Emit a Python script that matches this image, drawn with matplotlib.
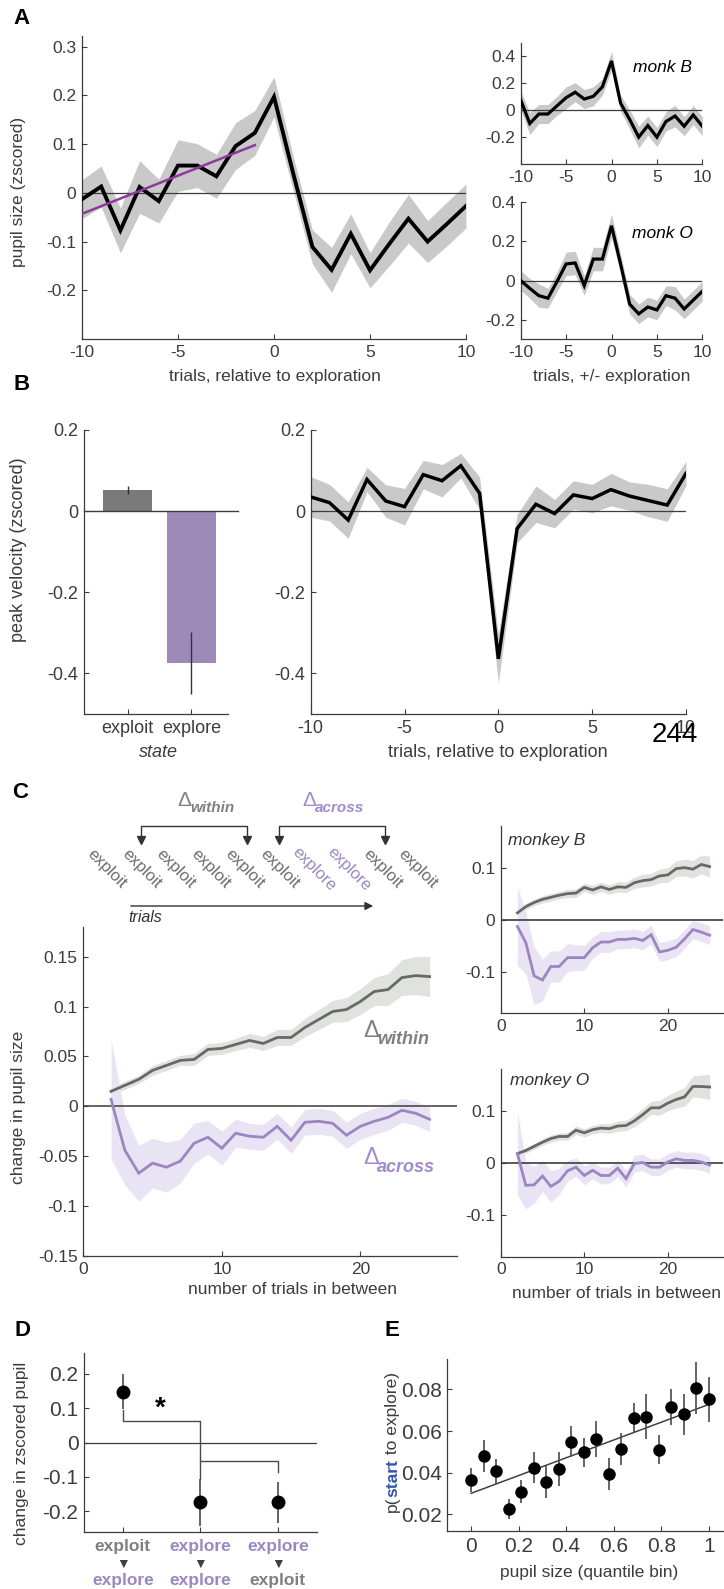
"""
Pupil / exploration figure, panels A-E, redrawn in matplotlib.
"""

import matplotlib
matplotlib.use("Agg")
import matplotlib.pyplot as plt
import numpy as np

plt.rcParams["font.family"] = ["Liberation Sans", "DejaVu Sans"]
plt.rcParams["axes.unicode_minus"] = False

# ---------------- data ----------------
# A: pupil around exploration onset
trials_a = list(range(-10, 11))
pupil_all = [-0.013, 0.013, -0.077, 0.012, -0.017, 0.056, 0.056, 0.034, 0.096, 0.123, 0.197,
             0.040, -0.111, -0.158, -0.084, -0.159, -0.105, -0.053, -0.100, -0.064, -0.027]
pupil_all_err = [0.040, 0.042, 0.046, 0.054, 0.045, 0.053, 0.045, 0.045, 0.048, 0.046, 0.041,
                 0.035, 0.035, 0.046, 0.041, 0.036, 0.045, 0.050, 0.043, 0.045, 0.045]
fit_x = [-10, -1]
fit_y = [-0.043, 0.098]

pupil_monkB = [0.073, -0.100, -0.030, -0.030, 0.030, 0.090, 0.130, 0.080, 0.100, 0.170, 0.360,
               0.050, -0.070, -0.200, -0.115, -0.200, -0.085, -0.045, -0.120, -0.037, -0.120]
pupil_monkB_err = [0.07, 0.08, 0.07, 0.07, 0.07, 0.08, 0.07, 0.07, 0.07, 0.06, 0.07,
                   0.06, 0.07, 0.08, 0.07, 0.07, 0.07, 0.08, 0.07, 0.07, 0.07]
pupil_monkO = [0.000, -0.040, -0.077, -0.090, -0.005, 0.085, 0.090, -0.025, 0.110, 0.110, 0.280,
               0.085, -0.120, -0.170, -0.135, -0.150, -0.077, -0.090, -0.145, -0.100, -0.055]
pupil_monkO_err = [0.05, 0.05, 0.06, 0.05, 0.05, 0.06, 0.06, 0.05, 0.06, 0.06, 0.06,
                   0.05, 0.05, 0.05, 0.05, 0.05, 0.05, 0.06, 0.05, 0.05, 0.05]

# B: peak velocity
states = ["exploit", "explore"]
velocity_state = [0.052, -0.374]
velocity_state_err = [0.010, 0.076]
velocity_trial = [0.035, 0.021, -0.022, 0.078, 0.025, 0.011, 0.090, 0.075, 0.112, 0.044, -0.364,
                  -0.043, 0.017, -0.006, 0.040, 0.031, 0.053, 0.037, 0.026, 0.015, 0.093]
velocity_trial_err = [0.050, 0.045, 0.045, 0.030, 0.040, 0.045, 0.035, 0.040, 0.030, 0.040, 0.060,
                      0.035, 0.045, 0.035, 0.035, 0.035, 0.040, 0.035, 0.040, 0.040, 0.030]

# C: change in pupil vs. number of trials in between
n_between = list(range(2, 26))
within_all = [0.015, 0.021, 0.027, 0.036, 0.041, 0.046, 0.047, 0.057, 0.058, 0.062, 0.066, 0.063,
              0.069, 0.069, 0.079, 0.087, 0.095, 0.097, 0.105, 0.115, 0.117, 0.129, 0.131, 0.130]
within_all_err = [0.003, 0.004, 0.004, 0.005, 0.005, 0.005, 0.006, 0.006, 0.006, 0.006, 0.007, 0.007,
                  0.008, 0.008, 0.009, 0.010, 0.011, 0.012, 0.013, 0.014, 0.016, 0.018, 0.019, 0.020]
across_all = [0.007, -0.044, -0.067, -0.057, -0.061, -0.055, -0.037, -0.031, -0.042, -0.027, -0.030, -0.031,
              -0.020, -0.034, -0.016, -0.015, -0.017, -0.029, -0.020, -0.015, -0.011, -0.004, -0.007, -0.013]
across_all_err = [0.060, 0.035, 0.028, 0.025, 0.025, 0.022, 0.020, 0.017, 0.017, 0.014, 0.013, 0.013,
                  0.013, 0.013, 0.013, 0.013, 0.013, 0.013, 0.013, 0.013, 0.013, 0.012, 0.012, 0.012]

within_B = [0.013, 0.025, 0.033, 0.039, 0.043, 0.047, 0.050, 0.051, 0.062, 0.057, 0.063, 0.058,
            0.063, 0.062, 0.071, 0.075, 0.077, 0.084, 0.086, 0.098, 0.100, 0.097, 0.106, 0.102]
within_B_err = [0.005, 0.006, 0.006, 0.007, 0.007, 0.007, 0.008, 0.008, 0.008, 0.009, 0.009, 0.009,
                0.010, 0.010, 0.011, 0.012, 0.012, 0.013, 0.014, 0.015, 0.016, 0.017, 0.018, 0.020]
across_B = [-0.013, -0.044, -0.108, -0.116, -0.090, -0.090, -0.073, -0.073, -0.073, -0.054, -0.043, -0.043,
            -0.038, -0.038, -0.036, -0.040, -0.029, -0.062, -0.059, -0.053, -0.037, -0.019, -0.024, -0.030]
across_B_err = [0.075, 0.060, 0.055, 0.040, 0.030, 0.030, 0.027, 0.025, 0.024, 0.020, 0.020, 0.020,
                0.018, 0.018, 0.018, 0.018, 0.018, 0.018, 0.018, 0.018, 0.018, 0.018, 0.018, 0.018]
within_O = [0.018, 0.024, 0.032, 0.040, 0.047, 0.051, 0.051, 0.063, 0.058, 0.064, 0.067, 0.066,
            0.071, 0.072, 0.081, 0.093, 0.106, 0.106, 0.115, 0.122, 0.127, 0.147, 0.147, 0.146]
within_O_err = [0.005, 0.005, 0.006, 0.006, 0.007, 0.007, 0.007, 0.008, 0.008, 0.008, 0.009, 0.009,
                0.010, 0.010, 0.011, 0.012, 0.013, 0.014, 0.015, 0.016, 0.018, 0.020, 0.022, 0.024]
across_O = [0.018, -0.043, -0.042, -0.025, -0.045, -0.035, -0.015, -0.008, -0.024, -0.014, -0.024, -0.024,
            -0.010, -0.030, -0.001, 0.001, -0.008, -0.008, 0.002, 0.008, 0.005, 0.005, 0.002, -0.004]
across_O_err = [0.080, 0.045, 0.035, 0.030, 0.030, 0.025, 0.020, 0.018, 0.018, 0.016, 0.016, 0.016,
                0.016, 0.016, 0.016, 0.016, 0.016, 0.016, 0.016, 0.016, 0.016, 0.016, 0.016, 0.016]

# C schematic sequence
sequence = ["exploit", "exploit", "exploit", "exploit", "exploit", "exploit",
            "explore", "explore", "exploit", "exploit"]

# D: change in zscored pupil per transition
transition_from = ["exploit", "explore", "explore"]
transition_to = ["explore", "explore", "exploit"]
transition_change = [0.148, -0.174, -0.174]
transition_err = [0.051, 0.068, 0.060]

# E: p(start to explore) per pupil quantile bin
pupil_bin = [0.000, 0.053, 0.105, 0.158, 0.211, 0.263, 0.316, 0.368, 0.421, 0.474,
             0.526, 0.579, 0.632, 0.684, 0.737, 0.789, 0.842, 0.895, 0.947, 1.000]
p_start = [0.0363, 0.0480, 0.0406, 0.0224, 0.0309, 0.0424, 0.0357, 0.0418, 0.0549, 0.0499,
           0.0562, 0.0394, 0.0514, 0.0664, 0.0669, 0.0510, 0.0714, 0.0680, 0.0808, 0.0752]
p_start_err = [0.0058, 0.0075, 0.0060, 0.0048, 0.0056, 0.0074, 0.0077, 0.0080, 0.0074, 0.0070,
               0.0088, 0.0075, 0.0078, 0.0072, 0.0108, 0.0070, 0.0087, 0.0100, 0.0124, 0.0107]
p_fit_x = [0.0, 1.0]
p_fit_y = [0.0301, 0.0728]

# ---------------- style ----------------
INK = "#3c3c3c"
BAND = "#c9c9c9"
GREY_LINE = "#686868"
GREY_BAND = "#dfe2df"
PURPLE = "#9b86c2"
PURPLE_BAND = "#e9e4f3"
FIT = "#8e3a9d"
BAR_GREY = "#7a7a7a"
BAR_PURPLE = "#9c89b8"
BLUE = "#3556ab"
FS = 12.5

W, H = 724, 1589
fig = plt.figure(figsize=(W / 100, H / 100), dpi=100)


def box(x0, y0, x1, y1):
    # axes from pixel box (y measured from the top)
    return fig.add_axes([x0 / W, 1 - y1 / H, (x1 - x0) / W, (y1 - y0) / H])


def matlab(ax, fs=FS):
    for s in ["top", "right"]:
        ax.spines[s].set_visible(False)
    for s in ["left", "bottom"]:
        ax.spines[s].set_color(INK)
        ax.spines[s].set_linewidth(0.9)
    ax.tick_params(direction="in", length=3.5, width=0.8, colors=INK,
                   labelsize=fs, pad=4)
    ax.patch.set_alpha(0)


def ticks(ax, xt=None, yt=None):
    if xt is not None:
        ax.set_xticks(xt)
        ax.set_xticklabels([f"{v:g}" for v in xt])
    if yt is not None:
        ax.set_yticks(yt)
        ax.set_yticklabels([f"{v:g}" for v in yt])


def label_at(ax, axis, text, cx, cy, **kw):
    # axis label centred on pixel (cx, cy)
    bb = ax.get_position()
    ax_x = (cx / W - bb.x0) / bb.width
    ax_y = ((1 - cy / H) - bb.y0) / bb.height
    kw.setdefault("fontsize", FS)
    kw.setdefault("color", INK)
    if axis == "x":
        ax.set_xlabel(text, va="center", **kw)
        ax.xaxis.set_label_coords(ax_x, ax_y)
    else:
        ax.set_ylabel(text, va="center", **kw)
        ax.yaxis.set_label_coords(ax_x, ax_y)


def trace(ax, x, m, e, lc, bc, lw, zero=True, zlw=0.9):
    m, e = np.array(m), np.array(e)
    ax.fill_between(x, m - e, m + e, color=bc, lw=0, zorder=1)
    if zero:
        ax.axhline(0, color=INK, lw=zlw, zorder=2)
    ax.plot(x, m, color=lc, lw=lw, zorder=3, solid_joinstyle="miter")


# ---------------- A ----------------
axA = box(82, 36, 466, 339)
matlab(axA)
trace(axA, trials_a, pupil_all, pupil_all_err, "k", BAND, 2.8)
axA.plot(fit_x, fit_y, color=FIT, lw=1.8, zorder=4)
axA.set_xlim(-10, 10)
axA.set_ylim(-0.3, 0.322)
ticks(axA, [-10, -5, 0, 5, 10], [-0.2, -0.1, 0, 0.1, 0.2, 0.3])
label_at(axA, "x", "trials, relative to exploration", 275, 376)
label_at(axA, "y", "pupil size (zscored)", 19, 192)

axAB = box(520.7, 43.3, 702.3, 164.3)
matlab(axAB)
trace(axAB, trials_a, pupil_monkB, pupil_monkB_err, "k", BAND, 2.3)
axAB.set_xlim(-10, 10)
axAB.set_ylim(-0.4, 0.49)
ticks(axAB, [-10, -5, 0, 5, 10], [-0.2, 0, 0.2, 0.4])
axAB.text(0.78, 0.80, "monk B", transform=axAB.transAxes, ha="center", va="center",
          fontsize=FS, style="italic", color="k")

axAO = box(520.7, 202.3, 702.3, 339.3)
matlab(axAO)
trace(axAO, trials_a, pupil_monkO, pupil_monkO_err, "k", BAND, 2.3)
axAO.set_xlim(-10, 10)
axAO.set_ylim(-0.3, 0.4)
ticks(axAO, [-10, -5, 0, 5, 10], [-0.2, 0, 0.2, 0.4])
axAO.text(0.78, 0.774, "monk O", transform=axAO.transAxes, ha="center", va="center",
          fontsize=FS, style="italic", color="k")
label_at(axAO, "x", "trials, +/- exploration", 612, 377)

# ---------------- B ----------------
axBL = box(84, 430, 228.3, 714)
matlab(axBL, 13)
xs = [1, 2]
axBL.bar(xs, velocity_state, width=0.77, color=[BAR_GREY, BAR_PURPLE], zorder=2)
axBL.errorbar(xs, velocity_state, yerr=velocity_state_err, fmt="none",
              ecolor="#333333", elinewidth=1.0, capsize=0, zorder=3)
axBL.plot([0.31, 2.74], [0, 0], color=INK, lw=1.0, clip_on=False, zorder=4)
axBL.set_xlim(0.31, 2.58)
axBL.set_ylim(-0.5, 0.2)
axBL.set_xticks(xs)
axBL.set_xticklabels(states)
ticks(axBL, None, [-0.4, -0.2, 0, 0.2])
label_at(axBL, "x", "state", 158, 752, style="italic", fontsize=13)
label_at(axBL, "y", "peak velocity (zscored)", 18, 550, fontsize=13)

axBR = box(310.7, 430, 686, 714)
matlab(axBR, 13)
trace(axBR, trials_a, velocity_trial, velocity_trial_err, "k", BAND, 2.5)
axBR.set_xlim(-10, 10)
axBR.set_ylim(-0.5, 0.2)
ticks(axBR, [-10, -5, 0, 5, 10], [-0.4, -0.2, 0, 0.2])
label_at(axBR, "x", "trials, relative to exploration", 498, 752, fontsize=13)

# ---------------- C ----------------
axC = box(83.3, 926.7, 457.3, 1256)
matlab(axC)
trace(axC, n_between, within_all, within_all_err, GREY_LINE, GREY_BAND, 2.0, zlw=1.1)
trace(axC, n_between, across_all, across_all_err, PURPLE, PURPLE_BAND, 2.0, zero=False)
axC.set_xlim(0, 27)
axC.set_ylim(-0.15, 0.18)
ticks(axC, [0, 10, 20], [-0.15, -0.1, -0.05, 0, 0.05, 0.1, 0.15])
label_at(axC, "x", "number of trials in between", 292, 1290)
label_at(axC, "y", "change in pupil size", 19, 1107)

axCB = box(500.7, 826, 723, 1013.3)
matlab(axCB)
trace(axCB, n_between, within_B, within_B_err, GREY_LINE, GREY_BAND, 2.0, zlw=1.2)
trace(axCB, n_between, across_B, across_B_err, PURPLE, PURPLE_BAND, 2.0, zero=False)
axCB.set_xlim(0, 26.6)
axCB.set_ylim(-0.18, 0.18)
ticks(axCB, [0, 10, 20], [-0.1, 0, 0.1])
axCB.text(0.035, 0.92, "monkey B", transform=axCB.transAxes, ha="left", va="center",
          fontsize=FS, style="italic", color="#333333")

axCO = box(500.7, 1069.3, 723, 1256.7)
matlab(axCO)
trace(axCO, n_between, within_O, within_O_err, GREY_LINE, GREY_BAND, 2.0, zlw=1.2)
trace(axCO, n_between, across_O, across_O_err, PURPLE, PURPLE_BAND, 2.0, zero=False)
axCO.set_xlim(0, 26.6)
axCO.set_ylim(-0.18, 0.18)
ticks(axCO, [0, 10, 20], [-0.1, 0, 0.1])
axCO.text(0.04, 0.94, "monkey O", transform=axCO.transAxes, ha="left", va="center",
          fontsize=FS, style="italic", color="#333333")
label_at(axCO, "x", "number of trials in between", 617, 1293)

# ---------------- D ----------------
axD = box(84, 1353.3, 316.7, 1531.7)
matlab(axD, 15)
xd = [1, 2, 3]
axD.axhline(0, color=INK, lw=0.9, zorder=1)
axD.errorbar(xd, transition_change, yerr=transition_err, fmt="o", color="k", ms=9,
             ecolor="#4a4a4a", elinewidth=1.2, capsize=0, zorder=3)
# significance brackets
br = dict(color="#4a4a4a", lw=1.0, zorder=2)
axD.plot([1, 1, 2, 2], [0.095, 0.063, 0.063, -0.106], **br)
axD.plot([2, 3, 3], [-0.053, -0.053, -0.085], **br)
axD.text(1.48, 0.098, "*", ha="center", va="center", fontsize=20, fontweight="bold", color="k")
axD.set_xlim(0.5, 3.5)
axD.set_ylim(-0.26, 0.26)
axD.set_xticks(xd)
axD.set_xticklabels([])
ticks(axD, None, [-0.2, -0.1, 0, 0.1, 0.2])
state_col = {"exploit": "#808080", "explore": "#9b88c2"}
for x, a, b in zip(xd, transition_from, transition_to):
    tr = axD.get_xaxis_transform()
    axD.text(x, -0.084, a, transform=tr, ha="center", va="center", fontsize=12.5,
             fontweight="bold", color=state_col[a])
    axD.text(x, -0.178, "\u25BC", transform=tr, ha="center", va="center", fontsize=10,
             color="#404040")
    axD.text(x, -0.272, b, transform=tr, ha="center", va="center", fontsize=12.5,
             fontweight="bold", color=state_col[b])
label_at(axD, "y", "change in zscored pupil", 22, 1453)

# ---------------- E ----------------
axE = box(447.3, 1359.3, 723, 1531)
matlab(axE, 15)
axE.errorbar(pupil_bin, p_start, yerr=p_start_err, fmt="o", color="k", ms=8,
             ecolor="#4a4a4a", elinewidth=1.2, capsize=0, zorder=3)
axE.plot(p_fit_x, p_fit_y, color="#404040", lw=1.1, zorder=2)
axE.set_xlim(-0.1, 1.06)
axE.set_ylim(0.012, 0.0945)
ticks(axE, [0, 0.2, 0.4, 0.6, 0.8, 1], [0.02, 0.04, 0.06, 0.08])
label_at(axE, "x", "pupil size (quantile bin)", 589, 1572)

# multi-coloured y label, built from pieces reading bottom to top
renderer = fig.canvas.get_renderer()
pieces = [("p(", INK, "normal"), ("start", BLUE, "bold"), (" to explore)", INK, "normal")]
lengths = []
for s, c, w in pieces:
    t = fig.text(0, 0, s, fontsize=FS, fontweight=w)
    lengths.append(t.get_window_extent(renderer).width)
    t.remove()
y_cur = (H - 1442) - sum(lengths) / 2
for (s, c, w), ln in zip(pieces, lengths):
    fig.text(397 / W, y_cur / H, s, fontsize=FS, fontweight=w, color=c, rotation=90,
             rotation_mode="anchor", ha="left", va="baseline")
    y_cur += ln

# ---------------- overlay: letters, schematic ----------------
ov = fig.add_axes([0, 0, 1, 1])
ov.set_xlim(0, W)
ov.set_ylim(H, 0)
ov.axis("off")

for letter, (lx, ly) in {"A": (21, 18), "B": (22, 384), "C": (20, 793),
                         "D": (22, 1330), "E": (392, 1330)}.items():
    ov.text(lx, ly, letter, fontsize=16, fontweight="bold", ha="center", va="center", color="k")

# rotated trial words
word_x0, word_step, word_y = 107, 34.5, 869
for i, s in enumerate(sequence):
    ov.text(word_x0 + i * word_step, word_y, s, rotation=-45, ha="center", va="center",
            fontsize=12, color=state_col[s] if s == "explore" else "#6e6e6e")

# comparison brackets above the words
for i0, i1 in [(1, 4), (5, 8)]:
    xa, xb = word_x0 + i0 * word_step - 1, word_x0 + i1 * word_step + 2
    ov.plot([xa, xa, xb, xb], [838, 826, 826, 838], color="#333333", lw=1.0)
    ov.plot([xa, xb], [840, 840], ls="none", marker="v", ms=6, color="#333333")

# delta labels
ov.text(177, 801, "\u0394", fontsize=15, color="#808080", ha="left", va="center")
ov.text(190, 808, "within", fontsize=11, color="#808080", fontweight="bold",
        style="italic", ha="left", va="center")
ov.text(302, 801, "\u0394", fontsize=15, color="#a08ccb", ha="left", va="center")
ov.text(315, 808, "across", fontsize=11, color="#a08ccb", fontweight="bold",
        style="italic", ha="left", va="center")
ov.text(363, 1031, "\u0394", fontsize=17, color="#808080", ha="left", va="center")
ov.text(377, 1039, "within", fontsize=13, color="#808080", fontweight="bold",
        style="italic", ha="left", va="center")
ov.text(363, 1158, "\u0394", fontsize=17, color="#a08ccb", ha="left", va="center")
ov.text(377, 1167, "across", fontsize=13, color="#a08ccb", fontweight="bold",
        style="italic", ha="left", va="center")

# time arrow
ov.annotate("", xy=(376, 906), xytext=(128, 906),
            arrowprops=dict(arrowstyle="-|>", color="#333333", lw=1.0, mutation_scale=12))
ov.text(128, 918, "trials", fontsize=11.5, style="italic", color="#333333", ha="left", va="center")

# stray page number
ov.text(675, 735, "244", fontsize=20, color="k", ha="center", va="center")

fig.savefig("out.png", dpi=100)
